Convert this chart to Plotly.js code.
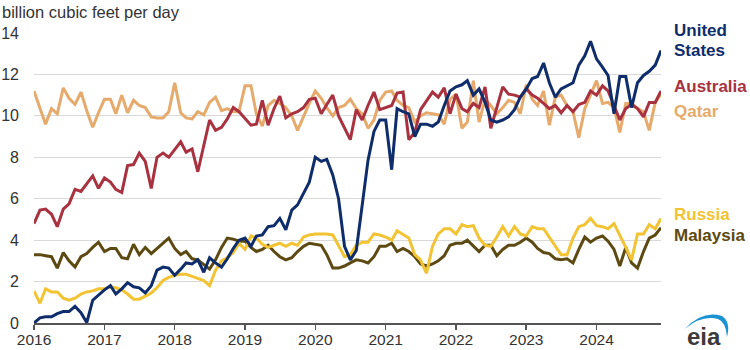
<!DOCTYPE html>
<html><head><meta charset="utf-8">
<script src="https://cdn.plot.ly/plotly-3.0.1.min.js"></script>
<style>html,body{margin:0;padding:0;background:#fff}#chart{width:750px;height:350px}</style>
</head><body><div id="chart"></div>
<script>
// Monthly LNG exports, Jan 2016 - Dec 2024 (billion cubic feet per day)
const startYear = 2016;
const yearTicks = [2016, 2017, 2018, 2019, 2020, 2021, 2022, 2023, 2024];

const unitedStates = [
  0.0, 0.25, 0.3, 0.3, 0.45, 0.55, 0.55, 0.8, 0.5, 0.02, 1.1, 1.35,
  1.6, 1.8, 1.4, 1.65, 1.95, 1.75, 1.7, 1.45, 1.8, 2.55, 2.7, 2.65,
  2.3, 2.6, 2.9, 2.85, 3.05, 2.45, 3.15, 2.9, 2.7, 3.1, 3.6, 4.0,
  4.1, 3.7, 4.2, 4.25, 4.65, 4.7, 5.05, 4.5, 5.45, 5.7, 6.25, 6.8,
  8.0, 7.8, 7.9, 7.15, 6.0, 3.7, 3.05, 3.5, 5.7, 7.85, 9.25, 9.8,
  9.8, 7.4, 10.35, 10.2, 10.1, 9.0, 9.6, 9.6, 9.5, 9.7, 10.5, 11.2,
  11.4, 11.5, 11.7, 11.0, 11.3, 10.65, 9.8, 9.7, 9.8, 9.95, 10.3, 10.9,
  11.3, 11.8, 11.9, 12.55, 11.6, 10.9, 11.3, 11.45, 11.6, 12.45, 12.9, 13.6,
  12.75, 12.35, 11.95, 10.1, 11.9, 11.9, 10.4, 11.6, 11.95, 12.15, 12.45, 13.15
];
const australia = [
  4.8, 5.45, 5.5, 5.25, 4.65, 5.5, 5.75, 6.45, 6.35, 6.7, 7.1, 6.5,
  7.0, 6.8, 6.45, 6.3, 7.6, 7.65, 8.2, 7.8, 6.5, 8.0, 8.2, 8.0,
  8.4, 8.75, 8.25, 8.4, 7.3, 8.6, 9.8, 9.3, 9.45, 9.85, 10.4, 10.2,
  9.85, 9.55, 9.6, 10.75, 9.55, 10.35, 10.95, 9.9, 10.1, 10.2, 10.4, 10.8,
  10.85, 10.1, 10.55, 11.0, 10.0, 9.4, 8.85, 10.3, 9.8, 10.5, 11.15, 10.3,
  10.4, 10.5, 11.1, 11.15, 8.85, 9.2, 10.3, 10.7, 11.15, 10.9, 11.35, 10.1,
  11.05, 10.35, 10.2, 10.6, 10.4, 11.4, 9.4, 10.4, 11.4, 11.05, 11.0, 10.9,
  11.3, 11.0, 10.85, 10.6, 10.35, 10.5, 10.15, 10.5, 10.2, 10.55, 10.65, 11.2,
  11.0, 11.45, 11.2, 10.5, 9.8, 10.35, 10.55, 10.35, 9.95, 10.65, 10.65, 11.2
];
const qatar = [
  11.2, 10.4, 9.6, 10.35, 10.1, 11.35, 10.85, 10.55, 11.15, 10.25, 9.45, 10.15,
  10.8, 10.8, 10.1, 11.0, 10.15, 10.75, 10.5, 10.4, 9.95, 9.9, 9.9, 10.2,
  11.6, 10.15, 9.9, 9.85, 10.2, 10.05, 10.65, 10.9, 10.25, 10.35, 10.2, 10.2,
  11.45, 11.45, 10.1, 9.5, 10.5, 10.75, 10.6, 10.4, 10.0, 9.3, 10.0, 10.6,
  11.2, 10.85, 10.4, 10.0, 10.4, 10.5, 10.8, 10.35, 10.1, 9.4, 9.8, 10.75,
  11.15, 11.2, 10.75, 10.5, 10.4, 9.7, 10.0, 10.15, 10.1, 10.05, 9.6, 10.8,
  11.05, 9.4, 9.7, 11.7, 9.7, 10.8, 10.5, 10.1, 10.4, 10.75, 10.65, 10.1,
  11.5, 10.8, 10.5, 11.2, 9.55, 10.9, 11.0, 10.5, 10.2, 8.95, 10.35, 11.0,
  11.7, 10.6, 10.65, 10.4, 9.2, 10.6, 10.6, 10.35, 10.2, 9.3, 10.65, 11.05
];
const russia = [
  1.55, 0.95, 1.65, 1.5, 1.5, 1.2, 1.1, 1.2, 1.4, 1.5, 1.55, 1.65,
  1.65, 1.75, 1.7, 1.6, 1.4, 1.15, 1.15, 1.3, 1.45, 1.7, 2.05, 2.2,
  2.3, 2.35, 2.35, 2.25, 2.15, 2.05, 1.8, 2.55, 3.0, 3.15, 3.4, 3.85,
  3.55, 4.2, 4.1, 3.8, 3.65, 3.75, 3.85, 3.7, 3.85, 3.75, 4.15, 4.25,
  4.3, 4.3, 4.3, 4.25, 3.75, 3.2, 3.3, 3.75, 3.9, 3.9, 4.3, 4.25,
  4.15, 4.0, 4.45, 4.25, 4.1, 3.3, 3.05, 2.4, 3.7, 4.3, 4.55, 4.55,
  4.3, 4.75, 4.65, 4.7, 4.1, 3.75, 3.7, 4.15, 4.65, 4.2, 4.65, 4.3,
  4.2, 4.65, 4.55, 4.55, 4.15, 3.7, 3.3, 3.3, 4.1, 4.65, 4.75, 5.05,
  4.7, 4.65, 4.55, 4.8, 4.25, 3.65, 3.05, 4.3, 4.3, 4.75, 4.55, 5.05
];
const malaysia = [
  3.3, 3.3, 3.25, 3.2, 2.65, 3.4, 3.0, 2.7, 3.2, 3.35, 3.65, 3.9,
  3.45, 3.6, 3.6, 3.15, 3.1, 3.8, 3.3, 3.65, 3.35, 3.6, 3.85, 4.1,
  3.6, 3.3, 3.45, 3.1, 3.05, 2.8, 2.6, 3.05, 3.65, 4.1, 4.05, 3.95,
  3.95, 3.65, 3.45, 3.55, 3.75, 3.45, 3.2, 3.05, 3.15, 3.45, 3.7, 3.85,
  3.8, 3.75, 3.3, 2.65, 2.65, 2.75, 2.9, 3.05, 3.0, 2.9, 3.2, 3.7,
  3.7, 3.85, 3.45, 3.6, 3.45, 3.2, 2.85, 2.75, 2.85, 3.0, 3.25, 3.75,
  3.85, 3.85, 4.0, 3.7, 3.45, 3.75, 3.75, 3.25, 3.55, 3.75, 3.75, 3.9,
  4.1, 3.9, 3.6, 3.4, 3.35, 3.1, 3.05, 3.1, 2.9, 3.55, 4.15, 3.9,
  4.1, 4.2, 3.95, 3.55, 2.75, 3.65, 2.9, 2.65, 3.45, 4.1, 4.25, 4.6
];

const seriesNames = ['Qatar', 'Australia', 'Malaysia', 'Russia', 'United States'];
const seriesValues = [qatar, australia, malaysia, russia, unitedStates];
const seriesColors = ['#e6aa6c', '#a8323f', '#5c4a12', '#f2c333', '#0f2d6b'];

const months = unitedStates.map((_, k) => {
  const y = startYear + Math.floor(k / 12), m = k % 12 + 1;
  return y + '-' + String(m).padStart(2, '0') + '-01';
});

const traces = seriesNames.map((name, s) => ({
  type: 'scatter', mode: 'lines', name: name,
  x: months, y: seriesValues[s],
  line: {color: seriesColors[s], width: 3}
}));

const F = 'Arial, "Liberation Sans", sans-serif';
const PL = 34, PR = 661, PT = 33, PB = 323;
const px = x => (x - PL) / (PR - PL);
const py = y => (PB - y) / (PB - PT);

const labels = [
  {t: 'United', y: 30, c: seriesColors[4]},
  {t: 'States', y: 50, c: seriesColors[4]},
  {t: 'Australia', y: 86, c: seriesColors[1]},
  {t: 'Qatar', y: 111, c: seriesColors[0]},
  {t: 'Russia', y: 214, c: seriesColors[3]},
  {t: 'Malaysia', y: 235, c: seriesColors[2]}
];

const annotations = labels.map(l => ({
  xref: 'paper', yref: 'paper', x: px(672), y: py(l.y),
  xanchor: 'left', yanchor: 'middle', showarrow: false,
  text: '<b>' + l.t + '</b>', font: {family: F, size: 17, color: l.c}
}));
annotations.push({
  xref: 'paper', yref: 'paper', x: px(0), y: py(12),
  xanchor: 'left', yanchor: 'middle', showarrow: false,
  text: 'billion cubic feet per day', font: {family: F, size: 16.5, color: '#333'}
});
annotations.push({
  xref: 'paper', yref: 'paper', x: px(704), y: py(336),
  xanchor: 'center', yanchor: 'middle', showarrow: false,
  text: '<b>eia</b>', font: {family: F, size: 24, color: '#3a3a3a'}
});

const arc = 'M ' + px(685) + ' ' + py(329) + ' Q ' + px(702) + ' ' + py(310) + ' ' + px(722) + ' ' + py(316) +
  ' Q ' + px(731) + ' ' + py(322) + ' ' + px(727) + ' ' + py(337) +
  ' Q ' + px(726) + ' ' + py(322) + ' ' + px(718) + ' ' + py(319) +
  ' Q ' + px(701) + ' ' + py(315) + ' ' + px(685) + ' ' + py(329) + ' Z';

const layout = {
  width: 750, height: 350,
  margin: {l: PL, r: 750 - PR, t: PT, b: 350 - PB},
  paper_bgcolor: '#fff', plot_bgcolor: '#fff',
  showlegend: false, hovermode: false,
  xaxis: {
    type: 'date', range: [months[0], months[months.length - 1]],
    tickvals: yearTicks.map(y => y + '-01-01'), ticktext: yearTicks.map(String),
    ticks: 'outside', ticklen: 5, tickwidth: 1.5, tickcolor: '#555',
    ticklabelstandoff: -3,
    showline: true, linecolor: '#555', linewidth: 1.5,
    showgrid: false, zeroline: false,
    tickfont: {family: F, size: 15.5, color: '#333'}
  },
  yaxis: {
    range: [0, 14], dtick: 2, tick0: 0,
    showgrid: true, gridcolor: '#d9d9d9', gridwidth: 1,
    zeroline: false, showline: false, ticks: '',
    ticklabelstandoff: 14,
    tickfont: {family: F, size: 16, color: '#333'}
  },
  annotations: annotations,
  shapes: [{type: 'path', xref: 'paper', yref: 'paper', path: arc, fillcolor: '#1b93d3', line: {width: 0}}]
};

Plotly.newPlot('chart', traces, layout, {staticPlot: true, displayModeBar: false});
</script></body></html>
